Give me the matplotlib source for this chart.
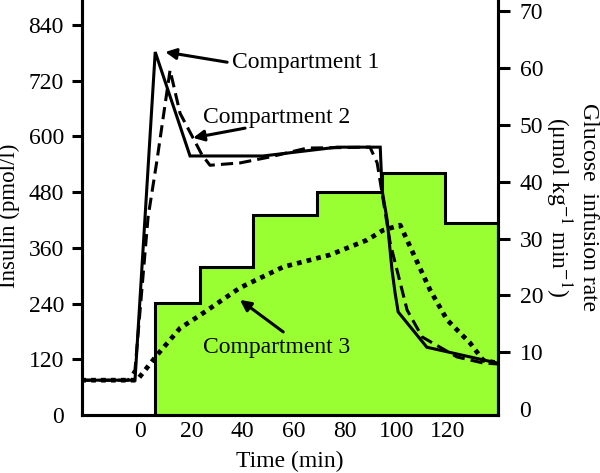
import matplotlib
matplotlib.use("Agg")
import matplotlib.pyplot as plt

plt.rcParams['font.family'] = ['Liberation Serif', 'DejaVu Serif']
plt.rcParams['mathtext.fontset'] = 'stix'

# insulin curves (pmol/l)
c1_t = [-23, -2, 5.9, 19.5, 48, 77, 93.8, 94.5, 96.5, 98.4, 99.6, 100.8, 112, 139.5]
c1_v = [75, 75, 782, 558, 558, 577, 577, 485, 420, 312, 263, 222, 146, 112]

c2_t = [-23, -4.7, -2, 3.1, 6.6, 11.7, 15.6, 24.2, 27.3, 39, 50.8, 65.2, 89.8, 92.6,
        97.7, 104.3, 110.2, 123.8, 134, 139.5]
c2_v = [75, 75, 97, 426, 549, 743, 650, 560, 538, 543, 556, 575, 577, 543,
        370, 226, 168, 125, 112, 110]

c3_t = [-23, -1.2, 6.6, 15.6, 23.4, 39, 55.9, 74.2, 88.7, 94.9, 101.6, 106.6,
        113.3, 119.9, 128.9, 134, 139.5]
c3_v = [75, 75, 129, 187, 215, 274, 319, 345, 377, 398, 409, 349,
        269, 205, 155, 118, 112]

# glucose infusion rate steps (umol kg-1 min-1)
step_edges = [5.9, 23.4, 44.1, 69.1, 94.5, 119.1, 139.8]
step_rate = [18.7, 25.0, 34.2, 38.2, 41.5, 32.7]

insulin_ticks = [0, 120, 240, 360, 480, 600, 720, 840]
rate_ticks = [0, 10, 20, 30, 40, 50, 60, 70]
time_ticks = [0, 20, 40, 60, 80, 100, 120]

serif = ['Liberation Serif', 'DejaVu Serif']
fs = 17

fig = plt.figure(figsize=(6, 4.73), dpi=100)
ax = fig.add_axes([82 / 600, 58 / 473, 416 / 600, 415 / 473])
ax2 = ax.twinx()
ax.set_zorder(ax2.get_zorder() + 1)
ax.patch.set_visible(False)

lw = 2.2
rate_low = -1.05
ax2.stairs(step_rate, step_edges, baseline=rate_low, fill=True,
           facecolor='#99ff33', edgecolor='none')
ax2.stairs(step_rate, step_edges, baseline=rate_low, fill=False,
           color='black', linewidth=lw)

ax.plot(c1_t, c1_v, color='black', linewidth=lw, solid_joinstyle='miter')
ax.plot(c2_t, c2_v, color='black', linewidth=lw, linestyle=(0, (4, 2)))
ax.plot(c3_t, c3_v, color='black', linewidth=3.4, linestyle=(0, (1, 1.1)))

ax.set_xlim(-22.7, 139.8)
ax.set_ylim(0, 894)
ax2.set_ylim(rate_low, 72)

ax.set_xticks(time_ticks)
ax.set_yticks(insulin_ticks)
ax2.set_yticks(rate_ticks)

for a in (ax, ax2):
    for s in a.spines.values():
        s.set_linewidth(lw)
    a.spines['top'].set_visible(False)

ax.tick_params(axis='x', length=0, pad=4, labelsize=fs)
ax.tick_params(axis='y', direction='out', length=7, width=lw, pad=6, labelsize=fs)
ax2.tick_params(axis='y', direction='out', length=8.5, width=lw, pad=7, labelsize=fs)
ax.yaxis.get_major_ticks()[0].tick1line.set_visible(False)
ax2.yaxis.get_major_ticks()[0].tick2line.set_visible(False)

ax.set_xlabel('Time (min)', fontsize=fs, labelpad=7, family=serif)
ax.set_ylabel('Insulin (pmol/l)', fontsize=16.5, family=serif)
ax.yaxis.set_label_coords(-0.148, 0.48)
ax2.set_ylabel('Glucose  infusion rate\n(μmol kg$^{-1}$ min$^{-1}$)',
               fontsize=fs, rotation=270, labelpad=40, linespacing=1.2,
               family=serif)

arrow = dict(arrowstyle='-|>', color='black', lw=2.2, mutation_scale=16,
             shrinkA=0, shrinkB=0)
ax.annotate('', xy=(9.8, 782), xytext=(34, 760), arrowprops=arrow)
ax.text(36, 760, 'Compartment 1', fontsize=fs, va='center', ha='left', family=serif)
ax.annotate('', xy=(20.7, 597), xytext=(41, 618), arrowprops=arrow)
ax.text(24.6, 640, 'Compartment 2', fontsize=fs, va='center', ha='left', family=serif)
ax.annotate('', xy=(39, 248), xytext=(55.9, 179), arrowprops=arrow)
ax.text(24.6, 146, 'Compartment 3', fontsize=fs, va='center', ha='left', family=serif)

fig.savefig('out.png', dpi=100)
